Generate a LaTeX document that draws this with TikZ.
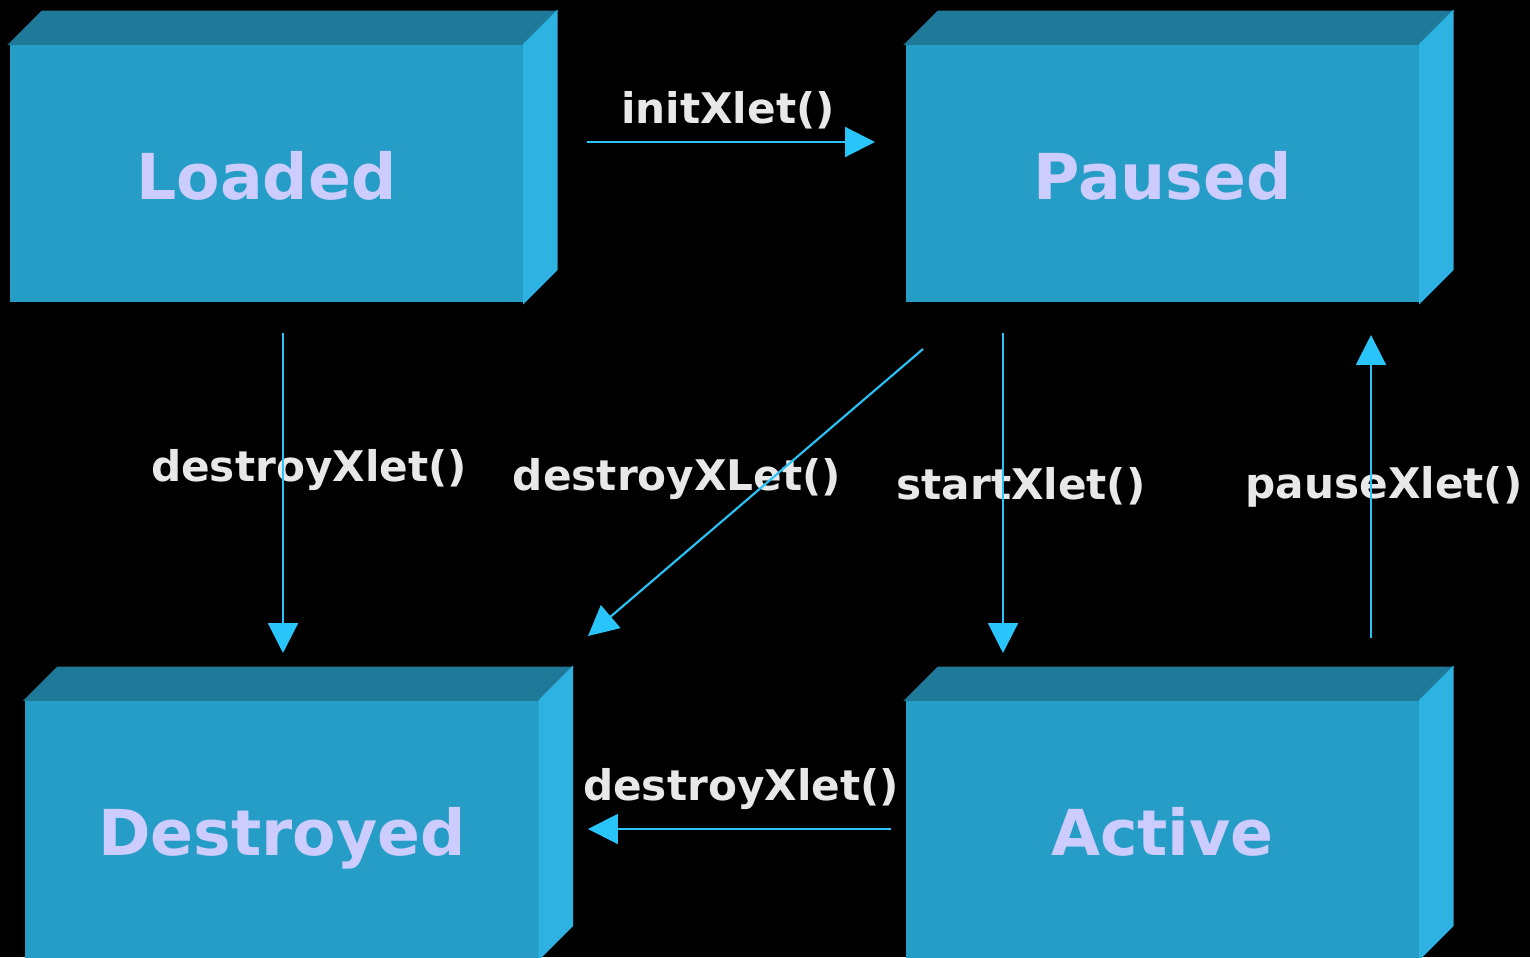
\documentclass[tikz,border=0pt]{standalone}
\usepackage{fontspec}
\setmainfont{DejaVu Sans}
\usetikzlibrary{arrows.meta,calc}
\begin{document}
\begin{tikzpicture}[x=0.01cm,y=-0.01cm,
        zustand/.style={fill=frontcolor, minimum width=5.13cm, minimum height=2.57cm, inner sep=0pt,
            text height=15pt, text depth=0pt, text=textcolor, font=\bfseries\fontsize{18}{22}\selectfont},
        methode/.style={text=labelcolor, inner sep=0pt, font=\bfseries\fontsize{12}{14}\selectfont},
        pfeil/.style={draw=arrowcolor, line width=0.6pt, -{Triangle[length=8.5pt,width=8.5pt]}}]
        % Farben der Quader und Pfeile
        \definecolor{frontcolor}{RGB}{38, 157, 199}
        \definecolor{topcolor}{RGB}{31, 122, 153}
        \definecolor{sidecolor}{RGB}{45, 178, 226}
        \definecolor{textcolor}{RGB}{204, 204, 255}
        \definecolor{labelcolor}{RGB}{232, 232, 232}
        \definecolor{arrowcolor}{RGB}{41, 196, 250}

        % Hintergrund
        \useasboundingbox (0, 0) rectangle (1530, 957);
        \fill[black] (0, 0) rectangle (1530, 957);

        % Zustaende (Vorderseite)
        \node[zustand] (loaded) at (266.5, 173.5) {Loaded};
        \node[zustand] (paused) at (1162.5, 173.5) {Paused};
        \node[zustand] (destroyed) at (282, 829.5) {Destroyed};
        \node[zustand] (active) at (1162.5, 829.5) {Active};

        % Oberseite und rechte Seite der Quader
        \foreach \b in {loaded, paused, destroyed, active} {
            \filldraw[topcolor, line width=0.4pt] (\b.north west) -- ++(33, -33) -- ($(\b.north east) + (33, -33)$) -- (\b.north east) -- cycle;
            \filldraw[sidecolor, line width=0.4pt] (\b.north east) -- ++(33, -33) -- ($(\b.south east) + (33, -33)$) -- (\b.south east) -- cycle;
        }

        % Beschriftung der Uebergaenge
        \node[methode] (init) at (728, 110) {initXlet()};
        \node[methode] (ld) at (309, 470) {destroyXlet()};
        \node[methode] (pd) at (677, 479) {destroyXLet()};
        \node[methode] (start) at (1021, 486) {startXlet()};
        \node[methode] (pause) at (1384, 487) {pauseXlet()};
        \node[methode] (ad) at (741, 789) {destroyXlet()};

        % Endpunkte der Pfeile
        \coordinate (init-a) at (587, 142);
        \coordinate (init-b) at (875, 142);
        \coordinate (ld-a) at (283, 333);
        \coordinate (ld-b) at (283, 653);
        \coordinate (pd-a) at (923, 349);
        \coordinate (pd-b) at (588, 636);
        \coordinate (start-a) at (1003, 333);
        \coordinate (start-b) at (1003, 653);
        \coordinate (pause-a) at (1371, 638);
        \coordinate (pause-b) at (1371, 335);
        \coordinate (ad-a) at (891, 829);
        \coordinate (ad-b) at (588, 829);

        % Pfeile
        \draw[pfeil] (init-a) -- (init-b);
        \draw[pfeil] (ld-a) -- (ld-b);
        \draw[pfeil] (pd-a) -- (pd-b);
        \draw[pfeil] (start-a) -- (start-b);
        \draw[pfeil] (pause-a) -- (pause-b);
        \draw[pfeil] (ad-a) -- (ad-b);
    \end{tikzpicture}
\end{document}
